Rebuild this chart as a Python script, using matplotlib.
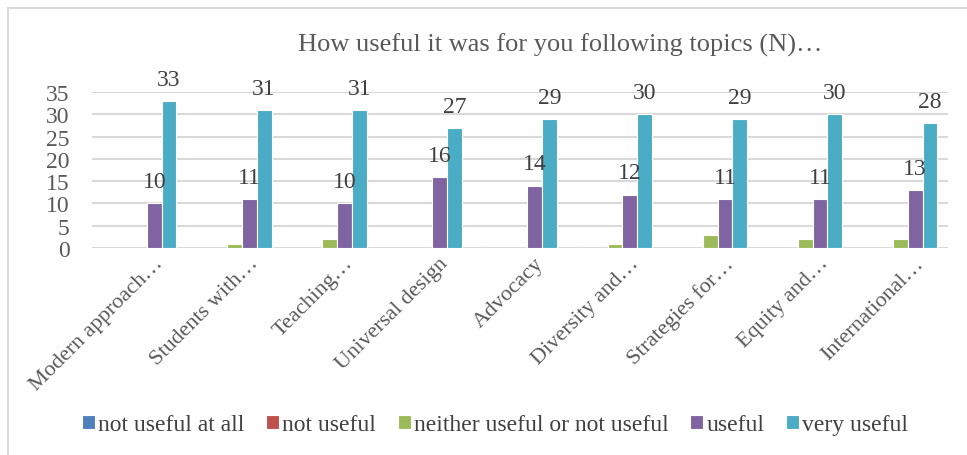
import numpy as np
import matplotlib
matplotlib.use("Agg")
import matplotlib.pyplot as plt
import matplotlib.transforms as mtransforms
from matplotlib.patches import Rectangle

plt.rcParams['font.family'] = ['Liberation Serif', 'DejaVu Serif']

topics = ["Modern approach…", "Students with…", "Teaching…", "Universal design",
          "Advocacy", "Diversity and…", "Strategies for…", "Equity and…", "International…"]
series_names = ["not useful at all", "not useful", "neither useful or not useful",
                "useful", "very useful"]
not_useful_at_all = [0, 0, 0, 0, 0, 0, 0, 0, 0]
not_useful = [0, 0, 0, 0, 0, 0, 0, 0, 0]
neither = [0, 1, 2, 0, 0, 1, 3, 2, 2]
useful = [10, 11, 10, 16, 14, 12, 11, 11, 13]
very_useful = [33, 31, 31, 27, 29, 30, 29, 30, 28]
colors = ["#4F81BD", "#C0504D", "#9BBB59", "#8064A2", "#4BACC6"]
labelled = [False, False, False, True, True]

data = [not_useful_at_all, not_useful, neither, useful, very_useful]

fig = plt.figure(figsize=(9.67, 4.56), dpi=100)
fig.patches.append(Rectangle((8 / 967, -0.1), 1.1, 1 - 9 / 456 + 0.1,
                             transform=fig.transFigure, fill=False,
                             edgecolor="#d9d9d9", linewidth=1.5))
ax = fig.add_axes([92 / 967, 1 - 249 / 456, (948 - 92) / 967, (249 - 93) / 456])

x = np.arange(len(topics))
w = 0.155
for i, (name, vals) in enumerate(zip(series_names, data)):
    bars = ax.bar(x + (i - 2) * w, vals, w, color=colors[i], label=name,
                  edgecolor="white", linewidth=0.8, zorder=3)
    if labelled[i]:
        for b, v in zip(bars, vals):
            ax.annotate(str(v), (b.get_x() + b.get_width() / 2, v),
                        xytext=(0, 8), textcoords="offset points",
                        ha="center", va="bottom", fontsize=17, color="#404040",
                        zorder=6)

ax.set_ylim(0, 35)
ax.set_xlim(-0.5, len(topics) - 0.5)
ax.set_yticks(range(0, 36, 5))
ax.yaxis.grid(True, color="#d9d9d9", linewidth=1.5, zorder=0)
ax.set_axisbelow(True)
for s in ax.spines.values():
    s.set_visible(False)
ax.tick_params(length=0, labelsize=17, colors="#595959", pad=4)
ax.set_xticks(x)
ax.set_xticklabels(topics, rotation=45, ha="right", rotation_mode="anchor",
                   fontsize=16, color="#595959")
shift = mtransforms.ScaledTranslation(14 / 100, 0, fig.dpi_scale_trans)
for lab in ax.get_xticklabels():
    lab.set_transform(lab.get_transform() + shift)
ax.tick_params(axis="y", pad=16)

fig.text(0.579, 0.9, "How useful it was for you following topics (N)…",
         ha="center", va="center", fontsize=19, color="#595959")

fig.legend(loc="center", bbox_to_anchor=(0.512, 0.066), ncol=5, frameon=False,
           fontsize=17, handlelength=0.55, handleheight=0.55, handletextpad=0.15,
           columnspacing=0.9, labelcolor="#404040")

fig.savefig("out.png", dpi=100)
